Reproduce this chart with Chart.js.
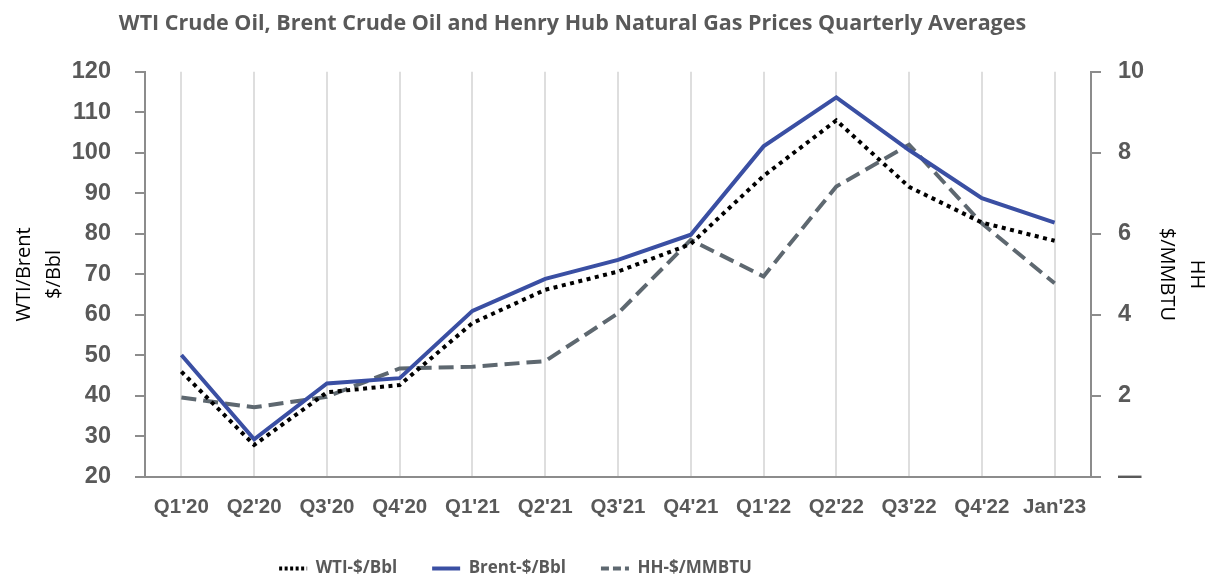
<!DOCTYPE html>
<html lang="en">
<head>
    <title>WTI, Brent and Henry Hub Prices</title>
    <meta charset="UTF-8">
    <script src="https://cdn.jsdelivr.net/npm/chart.js@4.4.1/dist/chart.umd.min.js"></script>
    <style>
        body {margin:0;padding:0;background:#fff;}
        #wrap {width:1205px;height:578px;}
    </style>
</head>
<body>
<div id="wrap"><canvas id="priceChart" width="1205" height="578"></canvas></div>
<script>
    const quarters = ["Q1'20", "Q2'20", "Q3'20", "Q4'20", "Q1'21", "Q2'21", "Q3'21", "Q4'21", "Q1'22", "Q2'22", "Q3'22", "Q4'22", "Jan'23"];
    const wti   = [46.0, 27.9, 40.9, 42.7, 58.0, 66.2, 70.7, 77.5, 94.3, 108.0, 91.6, 82.8, 78.3];
    const brent = [50.1, 29.3, 43.1, 44.4, 61.0, 68.9, 73.6, 79.8, 101.6, 113.7, 100.7, 88.8, 82.8];
    const hh    = [1.96, 1.72, 1.98, 2.68, 2.72, 2.86, 4.04, 5.85, 4.95, 7.17, 8.20, 6.26, 4.78];
    const oilTicks = [20, 120, 10];   // min, max, step
    const gasTicks = [0, 10, 2];

    const grey = '#595959';
    const axisGrey = '#8c8c8c';
    // shorter dash patterns for the small legend samples
    const legendDash = [[3, 2.5], [], [8, 4]];

    // title and legend are centred a bit left of the canvas middle in the original
    const nudgeBoxes = {
        id: 'nudgeBoxes',
        afterLayout(chart) {
            chart.titleBlock.left -= 30;
            chart.titleBlock.right -= 30;
            chart.legend.left -= 87;
            chart.legend.right -= 87;
        }
    };

    const defaultLabels = Chart.defaults.plugins.legend.labels.generateLabels;

    let ctx = document.getElementById('priceChart');
    let priceChart = new Chart(ctx, {
        type: 'line',
        data: {
            labels: quarters,
            datasets: [{
                label: 'WTI-$/Bbl',
                data: wti,
                yAxisID: 'yOil',
                borderColor: '#000000',
                backgroundColor: '#000000',
                borderWidth: 4,
                borderDash: [4, 4.5],
                pointRadius: 0,
                tension: 0
            }, {
                label: 'Brent-$/Bbl',
                data: brent,
                yAxisID: 'yOil',
                borderColor: '#3a4fa3',
                backgroundColor: '#3a4fa3',
                borderWidth: 4,
                pointRadius: 0,
                tension: 0
            }, {
                label: 'HH-$/MMBTU',
                data: hh,
                yAxisID: 'yGas',
                borderColor: '#5e6870',
                backgroundColor: '#5e6870',
                borderWidth: 4,
                borderDash: [15, 7],
                pointRadius: 0,
                tension: 0
            }]
        },
        plugins: [nudgeBoxes],
        options: {
            responsive: false,
            animation: false,
            // legend sits a little below the canvas edge so its row lands near the bottom
            layout: {padding: {left: 0, right: 0, top: 0, bottom: -9}},
            plugins: {
                title: {
                    display: true,
                    text: 'WTI Crude Oil, Brent Crude Oil and Henry Hub Natural Gas Prices Quarterly Averages',
                    color: grey,
                    font: {family: 'Open Sans', size: 21.5, weight: 'bold'},
                    padding: {top: 11, bottom: 35}
                },
                legend: {
                    position: 'bottom',
                    labels: {
                        usePointStyle: true,
                        pointStyle: 'line',
                        pointStyleWidth: 28,
                        color: grey,
                        padding: 35,
                        font: {family: 'Open Sans', size: 17, weight: 'bold'},
                        generateLabels: (chart) => defaultLabels(chart).map((item, i) => {
                            item.lineDash = legendDash[i];
                            item.lineWidth = 4;
                            item.strokeStyle = chart.data.datasets[i].borderColor;
                            return item;
                        })
                    }
                },
                tooltip: {enabled: false}
            },
            scales: {
                x: {
                    offset: true,
                    grid: {color: '#dedede', lineWidth: 2, offset: false, drawTicks: false},
                    border: {color: axisGrey, width: 2},
                    ticks: {
                        color: grey, padding: 18, maxRotation: 0, autoSkip: false,
                        font: {family: 'Liberation Sans', size: 20.5, weight: 'bold'}
                    },
                    afterFit: (s) => { s.height = 48; }
                },
                yOil: {
                    position: 'left',
                    min: oilTicks[0], max: oilTicks[1],
                    ticks: {
                        stepSize: oilTicks[2], color: grey, padding: 24,
                        font: {family: 'Liberation Sans', size: 23.5, weight: 'bold'}
                    },
                    grid: {drawOnChartArea: false, drawTicks: true, tickLength: 10, color: axisGrey, lineWidth: 2},
                    border: {color: axisGrey, width: 2},
                    title: {
                        display: true,
                        text: ['WTI/Brent', '$/Bbl'],
                        color: '#000000',
                        font: {family: 'Open Sans', size: 20, lineHeight: 1.5},
                        padding: {top: 9, bottom: 0}
                    },
                    afterFit: (s) => { s.width = 145; }
                },
                yGas: {
                    position: 'right',
                    min: gasTicks[0], max: gasTicks[1],
                    ticks: {
                        stepSize: gasTicks[2], color: grey, padding: 17,
                        font: {family: 'Liberation Sans', size: 23.5, weight: 'bold'},
                        callback: (v) => v === 0 ? '\u2014' : v
                    },
                    grid: {drawOnChartArea: false, drawTicks: true, tickLength: 10, color: axisGrey, lineWidth: 2},
                    border: {color: axisGrey, width: 2},
                    title: {
                        display: true,
                        text: ['HH', '$/MMBTU'],
                        color: '#000000',
                        font: {family: 'Open Sans', size: 20, lineHeight: 1.5},
                        padding: {top: -7, bottom: 0}
                    },
                    afterFit: (s) => { s.width = 114; }
                }
            }
        }
    });
</script>
</body>
</html>
